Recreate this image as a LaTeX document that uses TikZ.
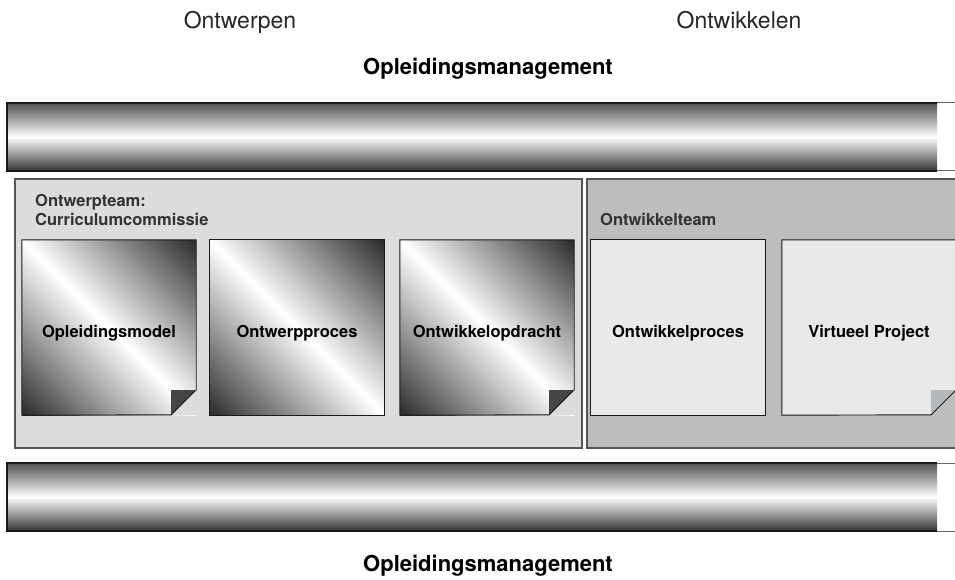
\documentclass[tikz,border=0pt]{standalone}
\usepackage{fontspec}
\setmainfont{TeX Gyre Heros}
\usetikzlibrary{positioning}
\definecolor{designgray}{RGB}{220,220,220}
\definecolor{devgray}{RGB}{189,189,189}
\definecolor{sheetgray}{RGB}{233,233,233}
\definecolor{folddark}{RGB}{69,69,69}
\definecolor{foldlight}{RGB}{181,184,188}
\definecolor{rimgray}{RGB}{85,85,85}
\pgfdeclarehorizontalshading{sheetshade}{100bp}{color(0bp)=(black!82);
  color(15bp)=(black!82); color(50bp)=(white); color(85bp)=(black!82);
  color(100bp)=(black!82)}

\begin{document}
\begin{tikzpicture}[x=1pt, y=-1pt,
      every node/.style={align=center},
      phase/.style={font=\fontsize{23}{27}\selectfont, text=black!85, anchor=base},
      mgmt/.style={font=\fontsize{22}{26}\selectfont\bfseries, anchor=base},
      team/.style={font=\fontsize{16.5}{18}\selectfont\bfseries, text=black!80,
                   align=left, anchor=base west, inner sep=0pt},
      sheet/.style={minimum width=174pt, minimum height=175pt, inner sep=0pt,
                    text height=22.5pt, text depth=3.5pt,
                    font=\fontsize{16.5}{20}\selectfont\bfseries},
      darksheet/.style={sheet, shading=sheetshade, shading angle=45},
      lightsheet/.style={sheet, fill=sheetgray},
      sheetline/.style={draw=black!90, line width=0.9pt},
      mgmtbar/.style={top color=black!68, bottom color=black!80, middle color=white},
      barline/.style={draw=black!90, line width=1.4pt},
      panelline/.style={draw=rimgray, line width=1.3pt},
    ]
    \useasboundingbox (0,0) rectangle (955,580);
    \clip (0,0) rectangle (955,580);

    % phases and management
    \node[phase] (ontwerpen) at (240,29) {Ontwerpen};
    \node[phase] (ontwikkelen) at (739,29) {Ontwikkelen};
    \node[mgmt] (mgmttop) at (488,75) {Opleidingsmanagement};
    \node[mgmt] (mgmtbottom) at (488,571) {Opleidingsmanagement};

    % management bars
    \shade[mgmtbar] (7,103) rectangle (937,171);
    \draw[draw=black!60, line width=1pt] (937,103) -- (960,103) (937,171) -- (960,171);
    \draw[barline] (937,103) -- (7,103) -- (7,171) -- (937,171);
    \shade[mgmtbar] (7,463) rectangle (937,531);
    \draw[draw=black!60, line width=1pt] (937,463) -- (960,463) (937,531) -- (960,531);
    \draw[barline] (937,463) -- (7,463) -- (7,531) -- (937,531);

    % team panels
    \fill[designgray] (15,179) rectangle (582,448);
    \draw[panelline] (15,179) rectangle (582,448);
    \fill[devgray] (587,179) rectangle (970,448);
    \draw[panelline] (587,179) rectangle (970,448);
    \node[team] (designteam) at (35,225) {Ontwerpteam:\\Curriculumcommissie};
    \node[team] (devteam) at (600,225) {Ontwikkelteam};

    % sheets of the design team
    \node[darksheet] (model) at (109,327.5) {Opleidingsmodel};
    \node[darksheet] (designproc) at (297,327.5) {Ontwerpproces};
    \node[darksheet] (assignment) at (487,327.5) {Ontwikkelopdracht};
    \draw[sheetline] (designproc.north west) rectangle (designproc.south east);

    \fill[designgray] (model.south east) -- ++(0,-25) -- ++(-25,25) -- cycle;
    \fill[folddark] ([shift={(-25,-25)}]model.south east) -- ++(25,0) -- ++(-25,25) -- cycle;
    \draw[sheetline] (model.north west) -- (model.north east) -- ++(0,150)
      -- ++(-25,25) -- (model.south west) -- cycle;

    \fill[designgray] (assignment.south east) -- ++(0,-25) -- ++(-25,25) -- cycle;
    \fill[folddark] ([shift={(-25,-25)}]assignment.south east) -- ++(25,0) -- ++(-25,25) -- cycle;
    \draw[sheetline] (assignment.north west) -- (assignment.north east) -- ++(0,150)
      -- ++(-25,25) -- (assignment.south west) -- cycle;

    % sheets of the development team
    \node[lightsheet] (devproc) at (678,327.5) {Ontwikkelproces};
    \node[lightsheet] (virtual) at (869,327.5) {Virtueel Project};
    \draw[sheetline] (devproc.north west) rectangle (devproc.south east);

    \fill[devgray] (virtual.south east) -- ++(0,-25) -- ++(-25,25) -- cycle;
    \fill[foldlight] ([shift={(-25,-25)}]virtual.south east) -- ++(25,0) -- ++(-25,25) -- cycle;
    \draw[sheetline] (virtual.north west) -- (virtual.north east) -- ++(0,150)
      -- ++(-25,25) -- (virtual.south west) -- cycle;
  \end{tikzpicture}
\end{document}
